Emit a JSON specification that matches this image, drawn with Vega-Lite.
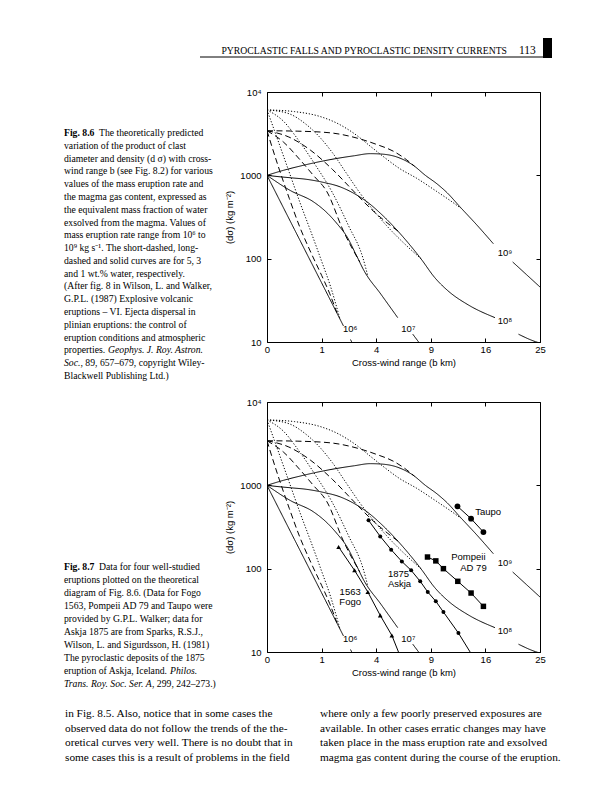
{
  "$schema": "https://vega.github.io/schema/vega-lite/v6.json",
  "background": "white",
  "padding": 0,
  "bounds": "flush",
  "columns": 2,
  "spacing": {"row": 60, "column": 0},
  "config": {"view": {"stroke": null}, "font": "Liberation Sans"},
  "datasets": {
    "header": [
      {"part": "running", "text": "PYROCLASTIC FALLS AND PYROCLASTIC DENSITY CURRENTS"},
      {"part": "folio", "text": "113"}
    ],
    "cap1": [
      {"line": 1, "kind": "label", "text": "Fig. 8.6"},
      {"line": 1, "kind": "text", "text": "The theoretically predicted"},
      {"line": 2, "kind": "text", "text": "variation of the product of clast"},
      {"line": 3, "kind": "text", "text": "diameter and density (d σ) with cross-"},
      {"line": 4, "kind": "text", "text": "wind range b (see Fig. 8.2) for various"},
      {"line": 5, "kind": "text", "text": "values of the mass eruption rate and"},
      {"line": 6, "kind": "text", "text": "the magma gas content, expressed as"},
      {"line": 7, "kind": "text", "text": "the equivalent mass fraction of water"},
      {"line": 8, "kind": "text", "text": "exsolved from the magma. Values of"},
      {"line": 9, "kind": "text", "text": "mass eruption rate range from 10⁶ to"},
      {"line": 10, "kind": "text", "text": "10⁹ kg s⁻¹. The short-dashed, long-"},
      {"line": 11, "kind": "text", "text": "dashed and solid curves are for 5, 3"},
      {"line": 12, "kind": "text", "text": "and 1 wt.% water, respectively."},
      {"line": 13, "kind": "text", "text": "(After fig. 8 in Wilson, L. and Walker,"},
      {"line": 14, "kind": "text", "text": "G.P.L. (1987) Explosive volcanic"},
      {"line": 15, "kind": "text", "text": "eruptions – VI. Ejecta dispersal in"},
      {"line": 16, "kind": "text", "text": "plinian eruptions: the control of"},
      {"line": 17, "kind": "text", "text": "eruption conditions and atmospheric"},
      {"line": 18, "kind": "text", "text": "properties."},
      {"line": 18, "kind": "journal", "text": "Geophys. J. Roy. Astron."},
      {"line": 19, "kind": "journal", "text": "Soc."},
      {"line": 19, "kind": "text", "text": ", 89, 657–679, copyright Wiley-"},
      {"line": 20, "kind": "text", "text": "Blackwell Publishing Ltd.)"}
    ],
    "cap2": [
      {"line": 1, "kind": "label", "text": "Fig. 8.7"},
      {"line": 1, "kind": "text", "text": "Data for four well-studied"},
      {"line": 2, "kind": "text", "text": "eruptions plotted on the theoretical"},
      {"line": 3, "kind": "text", "text": "diagram of Fig. 8.6. (Data for Fogo"},
      {"line": 4, "kind": "text", "text": "1563, Pompeii AD 79 and Taupo were"},
      {"line": 5, "kind": "text", "text": "provided by G.P.L. Walker; data for"},
      {"line": 6, "kind": "text", "text": "Askja 1875 are from Sparks, R.S.J.,"},
      {"line": 7, "kind": "text", "text": "Wilson, L. and Sigurdsson, H. (1981)"},
      {"line": 8, "kind": "text", "text": "The pyroclastic deposits of the 1875"},
      {"line": 9, "kind": "text", "text": "eruption of Askja, Iceland."},
      {"line": 9, "kind": "journal", "text": "Philos."},
      {"line": 10, "kind": "journal", "text": "Trans. Roy. Soc. Ser. A"},
      {"line": 10, "kind": "text", "text": ", 299, 242–273.)"}
    ],
    "body": [
      {"col": 1, "line": 1, "text": "in Fig. 8.5. Also, notice that in some cases the"},
      {"col": 1, "line": 2, "text": "observed data do not follow the trends of the the-"},
      {"col": 1, "line": 3, "text": "oretical curves very well. There is no doubt that in"},
      {"col": 1, "line": 4, "text": "some cases this is a result of problems in the field"},
      {"col": 2, "line": 1, "text": "where only a few poorly preserved exposures are"},
      {"col": 2, "line": 2, "text": "available. In other cases erratic changes may have"},
      {"col": 2, "line": 3, "text": "taken place in the mass eruption rate and exsolved"},
      {"col": 2, "line": 4, "text": "magma gas content during the course of the eruption."}
    ],
    "curves": [
      {"rate": "1e9", "water": 1, "part": 1, "b": 0, "v": 1000},
      {"rate": "1e9", "water": 1, "part": 1, "b": 0.09, "v": 1148},
      {"rate": "1e9", "water": 1, "part": 1, "b": 0.36, "v": 1288},
      {"rate": "1e9", "water": 1, "part": 1, "b": 0.81, "v": 1429},
      {"rate": "1e9", "water": 1, "part": 1, "b": 1.69, "v": 1603},
      {"rate": "1e9", "water": 1, "part": 1, "b": 2.56, "v": 1718},
      {"rate": "1e9", "water": 1, "part": 1, "b": 3.57, "v": 1820},
      {"rate": "1e9", "water": 1, "part": 1, "b": 4.41, "v": 1799},
      {"rate": "1e9", "water": 1, "part": 1, "b": 5.66, "v": 1660},
      {"rate": "1e9", "water": 1, "part": 1, "b": 7.18, "v": 1318},
      {"rate": "1e9", "water": 1, "part": 1, "b": 8.41, "v": 1000},
      {"rate": "1e9", "water": 1, "part": 1, "b": 9.67, "v": 794},
      {"rate": "1e9", "water": 1, "part": 1, "b": 10.89, "v": 617},
      {"rate": "1e9", "water": 1, "part": 1, "b": 12.51, "v": 417},
      {"rate": "1e9", "water": 1, "part": 1, "b": 14.82, "v": 251},
      {"rate": "1e9", "water": 1, "part": 1, "b": 17.19, "v": 151},
      {"rate": "1e9", "water": 1, "part": 2, "b": 20.25, "v": 91.2},
      {"rate": "1e9", "water": 1, "part": 2, "b": 22.56, "v": 64.6},
      {"rate": "1e9", "water": 1, "part": 2, "b": 25, "v": 45.7},
      {"rate": "1e8", "water": 1, "part": 1, "b": 0, "v": 1000},
      {"rate": "1e8", "water": 1, "part": 1, "b": 0.04, "v": 966},
      {"rate": "1e8", "water": 1, "part": 1, "b": 0.2, "v": 933},
      {"rate": "1e8", "water": 1, "part": 1, "b": 0.53, "v": 895},
      {"rate": "1e8", "water": 1, "part": 1, "b": 1.0, "v": 832},
      {"rate": "1e8", "water": 1, "part": 1, "b": 1.82, "v": 723},
      {"rate": "1e8", "water": 1, "part": 1, "b": 2.56, "v": 603},
      {"rate": "1e8", "water": 1, "part": 1, "b": 3.39, "v": 476},
      {"rate": "1e8", "water": 1, "part": 1, "b": 4.35, "v": 346},
      {"rate": "1e8", "water": 1, "part": 1, "b": 5.43, "v": 239},
      {"rate": "1e8", "water": 1, "part": 1, "b": 6.64, "v": 157},
      {"rate": "1e8", "water": 1, "part": 1, "b": 7.97, "v": 99},
      {"rate": "1e8", "water": 1, "part": 1, "b": 9.42, "v": 59.6},
      {"rate": "1e8", "water": 1, "part": 1, "b": 10.99, "v": 41.1},
      {"rate": "1e8", "water": 1, "part": 1, "b": 13.58, "v": 27.9},
      {"rate": "1e8", "water": 1, "part": 1, "b": 17.43, "v": 19.6},
      {"rate": "1e8", "water": 1, "part": 2, "b": 21.22, "v": 12.4},
      {"rate": "1e8", "water": 1, "part": 2, "b": 24.16, "v": 10.1},
      {"rate": "1e8", "water": 1, "part": 2, "b": 25, "v": 9.7},
      {"rate": "1e7", "water": 1, "part": 1, "b": 0, "v": 1000},
      {"rate": "1e7", "water": 1, "part": 1, "b": 0.18, "v": 659},
      {"rate": "1e7", "water": 1, "part": 1, "b": 0.73, "v": 479},
      {"rate": "1e7", "water": 1, "part": 1, "b": 1.21, "v": 355},
      {"rate": "1e7", "water": 1, "part": 1, "b": 1.65, "v": 262},
      {"rate": "1e7", "water": 1, "part": 1, "b": 2.16, "v": 181},
      {"rate": "1e7", "water": 1, "part": 1, "b": 2.64, "v": 114},
      {"rate": "1e7", "water": 1, "part": 1, "b": 3.16, "v": 71.6},
      {"rate": "1e7", "water": 1, "part": 1, "b": 4.35, "v": 37.5},
      {"rate": "1e7", "water": 1, "part": 1, "b": 5.73, "v": 19.6},
      {"rate": "1e7", "water": 1, "part": 2, "b": 7.13, "v": 12.4},
      {"rate": "1e7", "water": 1, "part": 2, "b": 7.84, "v": 9.55},
      {"rate": "1e6", "water": 1, "part": 1, "b": 0, "v": 1000},
      {"rate": "1e6", "water": 1, "part": 1, "b": 0.25, "v": 226},
      {"rate": "1e6", "water": 1, "part": 1, "b": 1.0, "v": 51.3},
      {"rate": "1e6", "water": 1, "part": 1, "b": 1.96, "v": 15.6},
      {"rate": "1e6", "water": 1, "part": 2, "b": 2.34, "v": 10.7},
      {"rate": "1e6", "water": 1, "part": 2, "b": 2.43, "v": 9.77},
      {"rate": "1e9", "water": 5, "part": 1, "b": 0, "v": 6095},
      {"rate": "1e9", "water": 5, "part": 1, "b": 0.25, "v": 5821},
      {"rate": "1e9", "water": 5, "part": 1, "b": 1.0, "v": 5012},
      {"rate": "1e9", "water": 5, "part": 1, "b": 1.69, "v": 4169},
      {"rate": "1e9", "water": 5, "part": 1, "b": 2.56, "v": 3162},
      {"rate": "1e9", "water": 5, "part": 1, "b": 3.72, "v": 2138},
      {"rate": "1e9", "water": 5, "part": 1, "b": 4.84, "v": 1549},
      {"rate": "1e9", "water": 5, "part": 1, "b": 5.86, "v": 1216},
      {"rate": "1e9", "water": 5, "part": 1, "b": 7.51, "v": 923},
      {"rate": "1e9", "water": 5, "part": 1, "b": 9.61, "v": 646},
      {"rate": "1e9", "water": 5, "part": 1, "b": 11.36, "v": 490},
      {"rate": "1e9", "water": 5, "part": 1, "b": 12.6, "v": 403},
      {"rate": "1e9", "water": 3, "part": 1, "b": 0, "v": 3428},
      {"rate": "1e9", "water": 3, "part": 1, "b": 0.32, "v": 3388},
      {"rate": "1e9", "water": 3, "part": 1, "b": 1.35, "v": 3236},
      {"rate": "1e9", "water": 3, "part": 1, "b": 2.66, "v": 2818},
      {"rate": "1e9", "water": 3, "part": 1, "b": 3.96, "v": 2371},
      {"rate": "1e9", "water": 3, "part": 1, "b": 5.48, "v": 1905},
      {"rate": "1e9", "water": 3, "part": 1, "b": 6.5, "v": 1549},
      {"rate": "1e9", "water": 3, "part": 1, "b": 7.29, "v": 1288},
      {"rate": "1e8", "water": 5, "part": 1, "b": 0, "v": 6095},
      {"rate": "1e8", "water": 5, "part": 1, "b": 0.16, "v": 5495},
      {"rate": "1e8", "water": 5, "part": 1, "b": 0.49, "v": 4169},
      {"rate": "1e8", "water": 5, "part": 1, "b": 0.9, "v": 2951},
      {"rate": "1e8", "water": 5, "part": 1, "b": 1.44, "v": 1862},
      {"rate": "1e8", "water": 5, "part": 1, "b": 2.1, "v": 1072},
      {"rate": "1e8", "water": 5, "part": 1, "b": 2.89, "v": 617},
      {"rate": "1e8", "water": 5, "part": 1, "b": 3.8, "v": 380},
      {"rate": "1e8", "water": 5, "part": 1, "b": 4.84, "v": 245},
      {"rate": "1e8", "water": 5, "part": 1, "b": 6.25, "v": 155},
      {"rate": "1e8", "water": 5, "part": 1, "b": 7.95, "v": 100},
      {"rate": "1e8", "water": 3, "part": 1, "b": 0, "v": 3428},
      {"rate": "1e8", "water": 3, "part": 1, "b": 0.16, "v": 2884},
      {"rate": "1e8", "water": 3, "part": 1, "b": 0.64, "v": 1995},
      {"rate": "1e8", "water": 3, "part": 1, "b": 1.44, "v": 1175},
      {"rate": "1e8", "water": 3, "part": 1, "b": 2.56, "v": 631},
      {"rate": "1e8", "water": 3, "part": 1, "b": 3.61, "v": 398},
      {"rate": "1e8", "water": 3, "part": 1, "b": 4.84, "v": 269},
      {"rate": "1e8", "water": 3, "part": 1, "b": 5.76, "v": 214},
      {"rate": "1e7", "water": 5, "part": 1, "b": 0, "v": 6095},
      {"rate": "1e7", "water": 5, "part": 1, "b": 0.09, "v": 4467},
      {"rate": "1e7", "water": 5, "part": 1, "b": 0.36, "v": 2512},
      {"rate": "1e7", "water": 5, "part": 1, "b": 0.81, "v": 1288},
      {"rate": "1e7", "water": 5, "part": 1, "b": 1.42, "v": 631},
      {"rate": "1e7", "water": 5, "part": 1, "b": 2.22, "v": 251},
      {"rate": "1e7", "water": 5, "part": 1, "b": 3.1, "v": 100},
      {"rate": "1e7", "water": 5, "part": 1, "b": 3.42, "v": 61},
      {"rate": "1e7", "water": 3, "part": 1, "b": 0, "v": 3428},
      {"rate": "1e7", "water": 3, "part": 1, "b": 0.09, "v": 2512},
      {"rate": "1e7", "water": 3, "part": 1, "b": 0.36, "v": 1549},
      {"rate": "1e7", "water": 3, "part": 1, "b": 0.72, "v": 1000},
      {"rate": "1e7", "water": 3, "part": 1, "b": 1.21, "v": 631},
      {"rate": "1e7", "water": 3, "part": 1, "b": 1.96, "v": 214},
      {"rate": "1e7", "water": 3, "part": 1, "b": 2.89, "v": 91.2},
      {"rate": "1e6", "water": 5, "part": 1, "b": 0, "v": 6095},
      {"rate": "1e6", "water": 5, "part": 1, "b": 0.04, "v": 2630},
      {"rate": "1e6", "water": 5, "part": 1, "b": 0.16, "v": 1122},
      {"rate": "1e6", "water": 5, "part": 1, "b": 0.36, "v": 479},
      {"rate": "1e6", "water": 5, "part": 1, "b": 0.64, "v": 214},
      {"rate": "1e6", "water": 5, "part": 1, "b": 1.0, "v": 93.3},
      {"rate": "1e6", "water": 5, "part": 1, "b": 1.35, "v": 46.8},
      {"rate": "1e6", "water": 5, "part": 1, "b": 1.77, "v": 19.5},
      {"rate": "1e6", "water": 3, "part": 1, "b": 0, "v": 3428},
      {"rate": "1e6", "water": 3, "part": 1, "b": 0.04, "v": 1318},
      {"rate": "1e6", "water": 3, "part": 1, "b": 0.168, "v": 525},
      {"rate": "1e6", "water": 3, "part": 1, "b": 0.36, "v": 240},
      {"rate": "1e6", "water": 3, "part": 1, "b": 0.64, "v": 120},
      {"rate": "1e6", "water": 3, "part": 1, "b": 1.0, "v": 63.1},
      {"rate": "1e6", "water": 3, "part": 1, "b": 1.32, "v": 38.0},
      {"rate": "1e6", "water": 3, "part": 1, "b": 1.64, "v": 22.4}
    ],
    "clabels": [
      {"label": "10⁶", "b": 2.32, "v": 14.5},
      {"label": "10⁷", "b": 6.7, "v": 14.5},
      {"label": "10⁸", "b": 19.0, "v": 17.8},
      {"label": "10⁹", "b": 19.0, "v": 118}
    ],
    "eruptions": [
      {"eruption": "Fogo 1563", "kind": "data", "b": 1.72, "v": 182},
      {"eruption": "Fogo 1563", "kind": "data", "b": 2.57, "v": 95.5},
      {"eruption": "Fogo 1563", "kind": "data", "b": 3.41, "v": 52.5},
      {"eruption": "Fogo 1563", "kind": "data", "b": 4.30, "v": 27.5},
      {"eruption": "Fogo 1563", "kind": "data", "b": 5.23, "v": 15.8},
      {"eruption": "Fogo 1563", "kind": "trend", "b": 5.80, "v": 10},
      {"eruption": "Askja 1875", "kind": "data", "b": 3.46, "v": 380},
      {"eruption": "Askja 1875", "kind": "data", "b": 4.30, "v": 244},
      {"eruption": "Askja 1875", "kind": "data", "b": 5.17, "v": 169},
      {"eruption": "Askja 1875", "kind": "data", "b": 6.10, "v": 122},
      {"eruption": "Askja 1875", "kind": "data", "b": 6.97, "v": 95.5},
      {"eruption": "Askja 1875", "kind": "data", "b": 7.87, "v": 70.5},
      {"eruption": "Askja 1875", "kind": "data", "b": 8.67, "v": 52.5},
      {"eruption": "Askja 1875", "kind": "data", "b": 9.56, "v": 40.6},
      {"eruption": "Askja 1875", "kind": "data", "b": 10.44, "v": 30.2},
      {"eruption": "Askja 1875", "kind": "data", "b": 12.29, "v": 16.9},
      {"eruption": "Askja 1875", "kind": "trend", "b": 13.84, "v": 10},
      {"eruption": "Pompeii AD 79", "kind": "data", "b": 8.64, "v": 138},
      {"eruption": "Pompeii AD 79", "kind": "data", "b": 9.56, "v": 124},
      {"eruption": "Pompeii AD 79", "kind": "data", "b": 10.44, "v": 100},
      {"eruption": "Pompeii AD 79", "kind": "data", "b": 12.21, "v": 70.5},
      {"eruption": "Pompeii AD 79", "kind": "data", "b": 13.97, "v": 51},
      {"eruption": "Pompeii AD 79", "kind": "data", "b": 15.71, "v": 35.3},
      {"eruption": "Taupo", "kind": "data", "b": 12.17, "v": 560},
      {"eruption": "Taupo", "kind": "data", "b": 13.97, "v": 398},
      {"eruption": "Taupo", "kind": "data", "b": 15.71, "v": 275}
    ],
    "elabels": [
      {"label": "Taupo", "b": 16.4, "v": 479},
      {"label": "Pompeii", "b": 13.6, "v": 138},
      {"label": "AD 79", "b": 14.3, "v": 102},
      {"label": "1875", "b": 5.8, "v": 87},
      {"label": "Askja", "b": 5.89, "v": 66},
      {"label": "1563", "b": 2.32, "v": 52.5},
      {"label": "Fogo", "b": 2.32, "v": 39.8}
    ]
  },
  "concat": [
    {
      "width": 267,
      "height": 32,
      "layer": [
        {
          "data": {"name": "header"},
          "transform": [{"filter": "datum.part == 'running'"}],
          "mark": {"type": "text", "align": "right", "baseline": "middle", "font": "Liberation Serif", "fontSize": 9.7, "color": "black"},
          "encoding": {"x": {"value": 507}, "y": {"value": 51}, "text": {"field": "text"}}
        },
        {
          "data": {"values": [{}]},
          "mark": {"type": "rule", "color": "black", "strokeWidth": 1},
          "encoding": {"x": {"value": 200}, "x2": {"value": 543}, "y": {"value": 57}}
        }
      ]
    },
    {
      "width": 273,
      "height": 32,
      "layer": [
        {
          "data": {"name": "header"},
          "transform": [{"filter": "datum.part == 'folio'"}],
          "mark": {"type": "text", "align": "left", "baseline": "middle", "font": "Liberation Serif", "fontSize": 11.5, "color": "black"},
          "encoding": {"x": {"value": 252}, "y": {"value": 51}, "text": {"field": "text"}}
        },
        {
          "data": {"values": [{}]},
          "mark": {"type": "rect", "color": "black"},
          "encoding": {"x": {"value": 276}, "x2": {"value": 285}, "y": {"value": 38}, "y2": {"value": 58}}
        }
      ]
    },
    {
      "width": 267,
      "height": 250,
      "data": {"name": "cap1"},
      "encoding": {
        "x": {"value": 64},
        "y": {"field": "line", "type": "quantitative", "scale": {"domain": [1, 20], "range": [41, 284]}, "axis": null},
        "text": {"field": "text"}
      },
      "layer": [
        {"transform": [{"filter": "datum.kind == 'label'"}], "mark": {"type": "text", "align": "left", "baseline": "middle", "font": "Liberation Serif", "fontSize": 9.7, "fontWeight": "bold", "color": "black"}},
        {"transform": [{"filter": "datum.kind == 'text' && datum.line != 1 && datum.line != 19"}], "mark": {"type": "text", "align": "left", "baseline": "middle", "font": "Liberation Serif", "fontSize": 9.7, "color": "black"}},
        {"transform": [{"filter": "datum.kind == 'text' && datum.line == 1"}], "mark": {"type": "text", "align": "left", "baseline": "middle", "font": "Liberation Serif", "fontSize": 9.7, "color": "black", "dx": 35}},
        {"transform": [{"filter": "datum.kind == 'journal' && datum.line == 18"}], "mark": {"type": "text", "align": "left", "baseline": "middle", "font": "Liberation Serif", "fontSize": 9.7, "fontStyle": "italic", "color": "black", "dx": 44}},
        {"transform": [{"filter": "datum.kind == 'journal' && datum.line == 19"}], "mark": {"type": "text", "align": "left", "baseline": "middle", "font": "Liberation Serif", "fontSize": 9.7, "fontStyle": "italic", "color": "black"}},
        {"transform": [{"filter": "datum.kind == 'text' && datum.line == 19"}], "mark": {"type": "text", "align": "left", "baseline": "middle", "font": "Liberation Serif", "fontSize": 9.7, "color": "black", "dx": 16.5}}
      ]
    },
    {
      "width": 273,
      "height": 250,
      "view": {"stroke": "black", "strokeWidth": 1},
      "resolve": {"axis": {"x": "independent", "y": "independent"}},
      "layer": [
        {
          "data": {"name": "curves"},
          "mark": {"type": "line", "color": "black", "interpolate": "monotone", "clip": true},
          "encoding": {
            "x": {"field": "b", "type": "quantitative", "scale": {"type": "sqrt", "domain": [0, 25], "nice": false}, "axis": {"orient": "bottom", "values": [0, 1, 4, 9, 16, 25], "format": "d", "title": "Cross-wind range (b km)", "labelFlush": false, "grid": false, "domain": false, "tickSize": -4, "tickColor": "black", "labelFont": "Liberation Sans", "labelFontSize": 9.5, "labelColor": "black", "labelPadding": 6, "titleFont": "Liberation Sans", "titleFontSize": 9.5, "titleFontWeight": "normal", "titleColor": "black", "titlePadding": 4}},
            "y": {"field": "v", "type": "quantitative", "scale": {"type": "log", "domain": [10, 10000], "nice": false}, "axis": {"orient": "left", "values": [10, 100, 1000, 10000], "labelExpr": "datum.value >= 10000 ? '10⁴' : format(datum.value, 'd')", "title": "(dσ) (kg m⁻²)", "grid": false, "domain": false, "tickSize": -4, "tickColor": "black", "labelFont": "Liberation Sans", "labelFontSize": 9.5, "labelColor": "black", "labelPadding": 10, "titleFont": "Liberation Sans", "titleFontSize": 9.5, "titleFontWeight": "normal", "titleColor": "black", "titlePadding": 5}},
            "detail": [{"field": "rate"}, {"field": "part"}],
            "strokeDash": {"field": "water", "type": "nominal", "scale": {"domain": [5, 3, 1], "range": [[1.2, 1.8], [6, 3.5], [1, 0]]}, "legend": null},
            "strokeWidth": {"field": "water", "type": "nominal", "scale": {"domain": [5, 3, 1], "range": [1, 1, 1.1]}, "legend": null}
          }
        },
        {
          "data": {"name": "clabels"},
          "mark": {"type": "text", "font": "Liberation Sans", "fontSize": 9.5, "color": "black"},
          "encoding": {
            "x": {"field": "b", "type": "quantitative", "scale": {"type": "sqrt", "domain": [0, 25], "nice": false}, "axis": {"orient": "top", "values": [0, 1, 4, 9, 16, 25], "labels": false, "title": null, "grid": false, "domain": false, "tickSize": -4, "tickColor": "black"}},
            "y": {"field": "v", "type": "quantitative", "scale": {"type": "log", "domain": [10, 10000], "nice": false}, "axis": {"orient": "right", "values": [10, 100, 1000, 10000], "labels": false, "title": null, "grid": false, "domain": false, "tickSize": -4, "tickColor": "black"}},
            "text": {"field": "label"}
          }
        }
      ]
    },
    {
      "width": 267,
      "height": 250,
      "data": {"name": "cap2"},
      "encoding": {
        "x": {"value": 64},
        "y": {"field": "line", "type": "quantitative", "scale": {"domain": [1, 10], "range": [165, 282]}, "axis": null},
        "text": {"field": "text"}
      },
      "layer": [
        {"transform": [{"filter": "datum.kind == 'label'"}], "mark": {"type": "text", "align": "left", "baseline": "middle", "font": "Liberation Serif", "fontSize": 9.7, "fontWeight": "bold", "color": "black"}},
        {"transform": [{"filter": "datum.kind == 'text' && datum.line != 1 && datum.line != 10"}], "mark": {"type": "text", "align": "left", "baseline": "middle", "font": "Liberation Serif", "fontSize": 9.7, "color": "black"}},
        {"transform": [{"filter": "datum.kind == 'text' && datum.line == 1"}], "mark": {"type": "text", "align": "left", "baseline": "middle", "font": "Liberation Serif", "fontSize": 9.7, "color": "black", "dx": 35}},
        {"transform": [{"filter": "datum.kind == 'journal' && datum.line == 9"}], "mark": {"type": "text", "align": "left", "baseline": "middle", "font": "Liberation Serif", "fontSize": 9.7, "fontStyle": "italic", "color": "black", "dx": 106}},
        {"transform": [{"filter": "datum.kind == 'journal' && datum.line == 10"}], "mark": {"type": "text", "align": "left", "baseline": "middle", "font": "Liberation Serif", "fontSize": 9.7, "fontStyle": "italic", "color": "black"}},
        {"transform": [{"filter": "datum.kind == 'text' && datum.line == 10"}], "mark": {"type": "text", "align": "left", "baseline": "middle", "font": "Liberation Serif", "fontSize": 9.7, "color": "black", "dx": 88}}
      ]
    },
    {
      "width": 273,
      "height": 250,
      "view": {"stroke": "black", "strokeWidth": 1},
      "resolve": {"axis": {"x": "independent", "y": "independent"}},
      "layer": [
        {
          "data": {"name": "curves"},
          "mark": {"type": "line", "color": "black", "interpolate": "monotone", "clip": true},
          "encoding": {
            "x": {"field": "b", "type": "quantitative", "scale": {"type": "sqrt", "domain": [0, 25], "nice": false}, "axis": {"orient": "bottom", "values": [0, 1, 4, 9, 16, 25], "format": "d", "title": "Cross-wind range (b km)", "labelFlush": false, "grid": false, "domain": false, "tickSize": -4, "tickColor": "black", "labelFont": "Liberation Sans", "labelFontSize": 9.5, "labelColor": "black", "labelPadding": 6, "titleFont": "Liberation Sans", "titleFontSize": 9.5, "titleFontWeight": "normal", "titleColor": "black", "titlePadding": 4}},
            "y": {"field": "v", "type": "quantitative", "scale": {"type": "log", "domain": [10, 10000], "nice": false}, "axis": {"orient": "left", "values": [10, 100, 1000, 10000], "labelExpr": "datum.value >= 10000 ? '10⁴' : format(datum.value, 'd')", "title": "(dσ) (kg m⁻²)", "grid": false, "domain": false, "tickSize": -4, "tickColor": "black", "labelFont": "Liberation Sans", "labelFontSize": 9.5, "labelColor": "black", "labelPadding": 10, "titleFont": "Liberation Sans", "titleFontSize": 9.5, "titleFontWeight": "normal", "titleColor": "black", "titlePadding": 5}},
            "detail": [{"field": "rate"}, {"field": "part"}],
            "strokeDash": {"field": "water", "type": "nominal", "scale": {"domain": [5, 3, 1], "range": [[1.2, 1.8], [6, 3.5], [1, 0]]}, "legend": null},
            "strokeWidth": {"field": "water", "type": "nominal", "scale": {"domain": [5, 3, 1], "range": [1, 1, 1.1]}, "legend": null}
          }
        },
        {
          "data": {"name": "clabels"},
          "mark": {"type": "text", "font": "Liberation Sans", "fontSize": 9.5, "color": "black"},
          "encoding": {
            "x": {"field": "b", "type": "quantitative", "scale": {"type": "sqrt", "domain": [0, 25], "nice": false}, "axis": {"orient": "top", "values": [0, 1, 4, 9, 16, 25], "labels": false, "title": null, "grid": false, "domain": false, "tickSize": -4, "tickColor": "black"}},
            "y": {"field": "v", "type": "quantitative", "scale": {"type": "log", "domain": [10, 10000], "nice": false}, "axis": {"orient": "right", "values": [10, 100, 1000, 10000], "labels": false, "title": null, "grid": false, "domain": false, "tickSize": -4, "tickColor": "black"}},
            "text": {"field": "label"}
          }
        },
        {
          "data": {"name": "eruptions"},
          "mark": {"type": "line", "color": "black", "strokeWidth": 1, "clip": true},
          "encoding": {
            "x": {"field": "b", "type": "quantitative", "scale": {"type": "sqrt", "domain": [0, 25], "nice": false}, "axis": null},
            "y": {"field": "v", "type": "quantitative", "scale": {"type": "log", "domain": [10, 10000], "nice": false}, "axis": null},
            "detail": {"field": "eruption"}
          }
        },
        {
          "data": {"name": "eruptions"},
          "transform": [{"filter": "datum.kind == 'data' && datum.eruption == 'Fogo 1563'"}],
          "mark": {"type": "point", "shape": "triangle-up", "filled": true, "color": "black", "opacity": 1, "size": 22},
          "encoding": {
            "x": {"field": "b", "type": "quantitative", "scale": {"type": "sqrt", "domain": [0, 25], "nice": false}, "axis": null},
            "y": {"field": "v", "type": "quantitative", "scale": {"type": "log", "domain": [10, 10000], "nice": false}, "axis": null}
          }
        },
        {
          "data": {"name": "eruptions"},
          "transform": [{"filter": "datum.kind == 'data' && datum.eruption == 'Askja 1875'"}],
          "mark": {"type": "point", "shape": "circle", "filled": true, "color": "black", "opacity": 1, "size": 16},
          "encoding": {
            "x": {"field": "b", "type": "quantitative", "scale": {"type": "sqrt", "domain": [0, 25], "nice": false}, "axis": null},
            "y": {"field": "v", "type": "quantitative", "scale": {"type": "log", "domain": [10, 10000], "nice": false}, "axis": null}
          }
        },
        {
          "data": {"name": "eruptions"},
          "transform": [{"filter": "datum.kind == 'data' && datum.eruption == 'Pompeii AD 79'"}],
          "mark": {"type": "point", "shape": "square", "filled": true, "color": "black", "opacity": 1, "size": 30},
          "encoding": {
            "x": {"field": "b", "type": "quantitative", "scale": {"type": "sqrt", "domain": [0, 25], "nice": false}, "axis": null},
            "y": {"field": "v", "type": "quantitative", "scale": {"type": "log", "domain": [10, 10000], "nice": false}, "axis": null}
          }
        },
        {
          "data": {"name": "eruptions"},
          "transform": [{"filter": "datum.kind == 'data' && datum.eruption == 'Taupo'"}],
          "mark": {"type": "point", "shape": "circle", "filled": true, "color": "black", "opacity": 1, "size": 34},
          "encoding": {
            "x": {"field": "b", "type": "quantitative", "scale": {"type": "sqrt", "domain": [0, 25], "nice": false}, "axis": null},
            "y": {"field": "v", "type": "quantitative", "scale": {"type": "log", "domain": [10, 10000], "nice": false}, "axis": null}
          }
        },
        {
          "data": {"name": "elabels"},
          "mark": {"type": "text", "font": "Liberation Sans", "fontSize": 9.5, "color": "black"},
          "encoding": {
            "x": {"field": "b", "type": "quantitative", "scale": {"type": "sqrt", "domain": [0, 25], "nice": false}, "axis": null},
            "y": {"field": "v", "type": "quantitative", "scale": {"type": "log", "domain": [10, 10000], "nice": false}, "axis": null},
            "text": {"field": "label"}
          }
        }
      ]
    },
    {
      "width": 267,
      "height": 60,
      "data": {"name": "body"},
      "transform": [{"filter": "datum.col == 1"}],
      "mark": {"type": "text", "align": "left", "baseline": "middle", "font": "Liberation Serif", "fontSize": 11.3, "color": "black"},
      "encoding": {
        "x": {"value": 65},
        "y": {"field": "line", "type": "quantitative", "scale": {"domain": [1, 4], "range": [2, 46]}, "axis": null},
        "text": {"field": "text"}
      }
    },
    {
      "width": 273,
      "height": 60,
      "data": {"name": "body"},
      "transform": [{"filter": "datum.col == 2"}],
      "mark": {"type": "text", "align": "left", "baseline": "middle", "font": "Liberation Serif", "fontSize": 11.3, "color": "black"},
      "encoding": {
        "x": {"value": 53},
        "y": {"field": "line", "type": "quantitative", "scale": {"domain": [1, 4], "range": [2, 46]}, "axis": null},
        "text": {"field": "text"}
      }
    }
  ]
}
